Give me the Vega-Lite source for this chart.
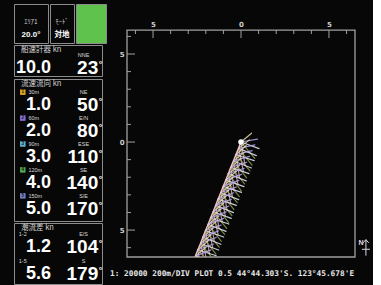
{
 "$schema": "https://vega.github.io/schema/vega-lite/v6.json",
 "background": "#070707",
 "padding": {"left": 13, "top": 3, "right": 0, "bottom": 0},
 "config": {
  "view": {"stroke": "#8c8c8c", "strokeWidth": 1},
  "text": {"font": "Liberation Sans", "color": "#ffffff"}
 },
 "datasets": {
  "header": [{"area": "ｴﾘｱ1", "mode": "ﾓｰﾄﾞ", "heading": "20.0°", "ref": "対地"}],
  "ship": [{"item": "ship", "speed": 10.0, "dir": 23, "card": "NNE"}],
  "currents": [
   {"layer": "L1", "no": "1", "depth": "30m", "speed": 1.0, "dir": 50, "card": "NE"},
   {"layer": "L2", "no": "2", "depth": "60m", "speed": 2.0, "dir": 80, "card": "E/N"},
   {"layer": "L3", "no": "3", "depth": "90m", "speed": 3.0, "dir": 110, "card": "ESE"},
   {"layer": "L4", "no": "4", "depth": "120m", "speed": 4.0, "dir": 140, "card": "SE"},
   {"layer": "L5", "no": "5", "depth": "150m", "speed": 5.0, "dir": 170, "card": "S/E"}
  ],
  "diffs": [
   {"item": "1-2", "speed": 1.2, "dir": 104, "card": "E/S"},
   {"item": "1-5", "speed": 5.6, "dir": 179, "card": "S"}
  ],
  "compass": [{"label": "N"}],
  "ticks": [
   {"v": -6, "kind": "minor"}, {"v": -5, "kind": "major"}, {"v": -4, "kind": "minor"}, {"v": -3, "kind": "minor"},
   {"v": -2, "kind": "minor"}, {"v": -1, "kind": "minor"}, {"v": 0, "kind": "major"}, {"v": 1, "kind": "minor"},
   {"v": 2, "kind": "minor"}, {"v": 3, "kind": "minor"}, {"v": 4, "kind": "minor"}, {"v": 5, "kind": "major"},
   {"v": 6, "kind": "minor"}
  ],
  "track": [
   {"t":0,"x":0,"y":0,"L1":50,"L2":80,"L3":110,"L4":140,"L5":170},
   {"t":1,"x":-0.14,"y":-0.36,"L1":52,"L2":78,"L3":112,"L4":141,"L5":168},
   {"t":2,"x":-0.29,"y":-0.72,"L1":48,"L2":76,"L3":108,"L4":139,"L5":171},
   {"t":3,"x":-0.43,"y":-1.08,"L1":51,"L2":74,"L3":111,"L4":142,"L5":169},
   {"t":4,"x":-0.58,"y":-1.44,"L1":49,"L2":72,"L3":109,"L4":140,"L5":172},
   {"t":5,"x":-0.72,"y":-1.8,"L1":53,"L2":71,"L3":112,"L4":143,"L5":170},
   {"t":6,"x":-0.86,"y":-2.16,"L1":50,"L2":70,"L3":110,"L4":141,"L5":168},
   {"t":7,"x":-1.01,"y":-2.52,"L1":47,"L2":69,"L3":108,"L4":139,"L5":171},
   {"t":8,"x":-1.15,"y":-2.88,"L1":52,"L2":70,"L3":111,"L4":142,"L5":169},
   {"t":9,"x":-1.3,"y":-3.24,"L1":50,"L2":68,"L3":109,"L4":140,"L5":170},
   {"t":10,"x":-1.44,"y":-3.6,"L1":48,"L2":69,"L3":112,"L4":143,"L5":172},
   {"t":11,"x":-1.58,"y":-3.96,"L1":51,"L2":70,"L3":110,"L4":141,"L5":168},
   {"t":12,"x":-1.73,"y":-4.32,"L1":49,"L2":68,"L3":108,"L4":139,"L5":171},
   {"t":13,"x":-1.87,"y":-4.68,"L1":52,"L2":69,"L3":111,"L4":142,"L5":169},
   {"t":14,"x":-2.02,"y":-5.04,"L1":50,"L2":70,"L3":109,"L4":140,"L5":170},
   {"t":15,"x":-2.16,"y":-5.4,"L1":48,"L2":68,"L3":112,"L4":143,"L5":172},
   {"t":16,"x":-2.3,"y":-5.76,"L1":51,"L2":69,"L3":110,"L4":141,"L5":168},
   {"t":17,"x":-2.45,"y":-6.12,"L1":49,"L2":70,"L3":108,"L4":139,"L5":171},
   {"t":18,"x":-2.59,"y":-6.48,"L1":50,"L2":68,"L3":111,"L4":142,"L5":169}
  ]
 },
 "resolve": {"scale": {"color": "independent", "x": "independent", "y": "independent"}},
 "spacing": 3,
 "hconcat": [
  {
   "spacing": 0,
   "vconcat": [
    {
     "spacing": 0,
     "hconcat": [
      {
       "width": 34, "height": 39,
       "data": {"name": "header"},
       "layer": [
        {"mark": {"type": "text", "font": "Noto Sans CJK JP", "fontSize": 6.5, "color": "#cfcfcf", "baseline": "middle", "dy": 5},
         "encoding": {"y": {"datum": "top", "type": "nominal", "axis": null, "scale": {"type": "point", "domain": ["top", "bottom"], "padding": 1.27}}, "text": {"field": "area"}}},
        {"mark": {"type": "text", "fontSize": 8, "fontWeight": "bold", "baseline": "middle", "dy": 5},
         "encoding": {"y": {"datum": "bottom", "type": "nominal", "axis": null, "scale": {"type": "point", "domain": ["top", "bottom"], "padding": 1.27}}, "text": {"field": "heading"}}}
       ]
      },
      {
       "width": 24, "height": 39,
       "data": {"name": "header"},
       "layer": [
        {"mark": {"type": "text", "font": "Noto Sans CJK JP", "fontSize": 6.5, "color": "#cfcfcf", "baseline": "middle", "dy": 5},
         "encoding": {"y": {"datum": "top", "type": "nominal", "axis": null, "scale": {"type": "point", "domain": ["top", "bottom"], "padding": 1.27}}, "text": {"field": "mode"}}},
        {"mark": {"type": "text", "font": "Noto Sans CJK JP", "fontSize": 7.5, "fontWeight": "bold", "baseline": "middle", "dy": 5},
         "encoding": {"y": {"datum": "bottom", "type": "nominal", "axis": null, "scale": {"type": "point", "domain": ["top", "bottom"], "padding": 1.27}}, "text": {"field": "ref"}}}
       ]
      },
      {
       "width": 30, "height": 39,
       "view": {"fill": "#5ec24d", "stroke": "#8c8c8c"},
       "data": {"name": "header"},
       "mark": {"type": "text", "text": ""}
      }
     ]
    },
    {
     "width": 88, "height": 31,
     "data": {"name": "ship"},
     "title": {"text": "船速計器  kn", "anchor": "start", "frame": "group", "orient": "top", "offset": -8, "dx": 7, "font": "Noto Sans CJK JP", "fontSize": 7.5, "fontWeight": "normal", "color": "#d4d4d4"},
     "encoding": {"y": {"field": "item", "type": "nominal", "axis": null, "sort": null, "scale": {"type": "point", "padding": 0.5}}},
     "layer": [
      {"mark": {"type": "text", "align": "center", "baseline": "middle", "dx": 8, "dy": -6, "fontSize": 5.5, "color": "#d8d8d8"},
       "encoding": {"x": {"datum": "card", "type": "nominal", "axis": null, "scale": {"type": "point", "domain": ["icon", "depth", "speed", "card", "dir"], "padding": 0.5}}, "text": {"field": "card"}}},
      {"mark": {"type": "text", "align": "right", "baseline": "middle", "dx": -7, "dy": 7, "fontSize": 18, "fontWeight": "bold"},
       "encoding": {"x": {"datum": "speed", "type": "nominal", "axis": null, "scale": {"type": "point", "domain": ["icon", "depth", "speed", "card", "dir"], "padding": 0.5}}, "text": {"field": "speed", "type": "quantitative", "format": ".1f"}}},
      {"mark": {"type": "text", "align": "right", "baseline": "middle", "dx": 5, "dy": 7, "fontSize": 19, "fontWeight": "bold"},
       "encoding": {"x": {"datum": "dir", "type": "nominal", "axis": null, "scale": {"type": "point", "domain": ["icon", "depth", "speed", "card", "dir"], "padding": 0.5}}, "text": {"field": "dir", "type": "quantitative", "format": "d"}}},
      {"mark": {"type": "text", "align": "left", "baseline": "top", "dx": 5.5, "dy": -1, "fontSize": 9, "fontWeight": "bold", "text": "°"},
       "encoding": {"x": {"datum": "dir", "type": "nominal", "axis": null, "scale": {"type": "point", "domain": ["icon", "depth", "speed", "card", "dir"], "padding": 0.5}}}}
     ]
    },
    {
     "width": 88, "height": 142,
     "data": {"name": "currents"},
     "title": {"text": "流速流向  kn", "anchor": "start", "frame": "group", "orient": "top", "offset": -8.5, "dx": 7, "font": "Noto Sans CJK JP", "fontSize": 7.5, "fontWeight": "normal", "color": "#d4d4d4"},
     "encoding": {"y": {"field": "layer", "type": "nominal", "axis": null, "sort": null, "scale": {"type": "point", "padding": 0.74}}},
     "layer": [
      {"mark": {"type": "point", "shape": "square", "filled": true, "size": 30, "opacity": 1},
       "encoding": {"x": {"datum": "icon", "type": "nominal", "axis": null, "scale": {"type": "point", "domain": ["icon", "depth", "speed", "card", "dir"], "padding": 0.5}},
                    "yOffset": {"value": -6},
                    "color": {"field": "layer", "type": "nominal", "legend": null, "scale": {"domain": ["L1", "L2", "L3", "L4", "L5"], "range": ["#e0a424", "#8a70d8", "#62b6d6", "#52a84a", "#7482c8"]}}}},
      {"mark": {"type": "text", "align": "center", "baseline": "middle", "dy": -6, "fontSize": 4.5, "fontWeight": "bold", "color": "#101010"},
       "encoding": {"x": {"datum": "icon", "type": "nominal", "axis": null, "scale": {"type": "point", "domain": ["icon", "depth", "speed", "card", "dir"], "padding": 0.5}}, "text": {"field": "no"}}},
      {"mark": {"type": "text", "align": "left", "baseline": "middle", "dx": -12, "dy": -6, "fontSize": 5.5, "color": "#d8d8d8"},
       "encoding": {"x": {"datum": "depth", "type": "nominal", "axis": null, "scale": {"type": "point", "domain": ["icon", "depth", "speed", "card", "dir"], "padding": 0.5}}, "text": {"field": "depth"}}},
      {"mark": {"type": "text", "align": "center", "baseline": "middle", "dx": 8, "dy": -6, "fontSize": 5.5, "color": "#d8d8d8"},
       "encoding": {"x": {"datum": "card", "type": "nominal", "axis": null, "scale": {"type": "point", "domain": ["icon", "depth", "speed", "card", "dir"], "padding": 0.5}}, "text": {"field": "card"}}},
      {"mark": {"type": "text", "align": "right", "baseline": "middle", "dx": -7, "dy": 7, "fontSize": 18, "fontWeight": "bold"},
       "encoding": {"x": {"datum": "speed", "type": "nominal", "axis": null, "scale": {"type": "point", "domain": ["icon", "depth", "speed", "card", "dir"], "padding": 0.5}}, "text": {"field": "speed", "type": "quantitative", "format": ".1f"}}},
      {"mark": {"type": "text", "align": "right", "baseline": "middle", "dx": 5, "dy": 7, "fontSize": 19, "fontWeight": "bold"},
       "encoding": {"x": {"datum": "dir", "type": "nominal", "axis": null, "scale": {"type": "point", "domain": ["icon", "depth", "speed", "card", "dir"], "padding": 0.5}}, "text": {"field": "dir", "type": "quantitative", "format": "d"}}},
      {"mark": {"type": "text", "align": "left", "baseline": "top", "dx": 5.5, "dy": -1, "fontSize": 9, "fontWeight": "bold", "text": "°"},
       "encoding": {"x": {"datum": "dir", "type": "nominal", "axis": null, "scale": {"type": "point", "domain": ["icon", "depth", "speed", "card", "dir"], "padding": 0.5}}}}
     ]
    },
    {
     "width": 88, "height": 61,
     "data": {"name": "diffs"},
     "title": {"text": "潮流差     kn", "anchor": "start", "frame": "group", "orient": "top", "offset": -8.5, "dx": 7, "font": "Noto Sans CJK JP", "fontSize": 7.5, "fontWeight": "normal", "color": "#d4d4d4"},
     "encoding": {"y": {"field": "item", "type": "nominal", "axis": null, "sort": null, "scale": {"type": "point", "padding": 0.654}}},
     "layer": [
      {"mark": {"type": "text", "align": "left", "baseline": "middle", "dx": -4, "dy": -6, "fontSize": 5.5, "color": "#d8d8d8"},
       "encoding": {"x": {"datum": "icon", "type": "nominal", "axis": null, "scale": {"type": "point", "domain": ["icon", "depth", "speed", "card", "dir"], "padding": 0.5}}, "text": {"field": "item"}}},
      {"mark": {"type": "text", "align": "center", "baseline": "middle", "dx": 8, "dy": -6, "fontSize": 5.5, "color": "#d8d8d8"},
       "encoding": {"x": {"datum": "card", "type": "nominal", "axis": null, "scale": {"type": "point", "domain": ["icon", "depth", "speed", "card", "dir"], "padding": 0.5}}, "text": {"field": "card"}}},
      {"mark": {"type": "text", "align": "right", "baseline": "middle", "dx": -7, "dy": 7, "fontSize": 18, "fontWeight": "bold"},
       "encoding": {"x": {"datum": "speed", "type": "nominal", "axis": null, "scale": {"type": "point", "domain": ["icon", "depth", "speed", "card", "dir"], "padding": 0.5}}, "text": {"field": "speed", "type": "quantitative", "format": ".1f"}}},
      {"mark": {"type": "text", "align": "right", "baseline": "middle", "dx": 5, "dy": 7, "fontSize": 19, "fontWeight": "bold"},
       "encoding": {"x": {"datum": "dir", "type": "nominal", "axis": null, "scale": {"type": "point", "domain": ["icon", "depth", "speed", "card", "dir"], "padding": 0.5}}, "text": {"field": "dir", "type": "quantitative", "format": "d"}}},
      {"mark": {"type": "text", "align": "left", "baseline": "top", "dx": 5.5, "dy": -1, "fontSize": 9, "fontWeight": "bold", "text": "°"},
       "encoding": {"x": {"datum": "dir", "type": "nominal", "axis": null, "scale": {"type": "point", "domain": ["icon", "depth", "speed", "card", "dir"], "padding": 0.5}}}}
     ]
    }
   ]
  },
  {
   "width": 228, "height": 253,
   "view": {"stroke": null},
   "title": {"text": "1: 20000   200m/DIV PLOT 0.5   44°44.303'S. 123°45.678'E", "orient": "bottom", "anchor": "start", "frame": "group", "dx": -17, "offset": 12, "font": "DejaVu Sans Mono", "fontSize": 7.8, "fontWeight": "bold", "color": "#e6e6e6"},
   "resolve": {"scale": {"size": "independent"}},
   "layer": [
    {
     "data": {"name": "compass"},
     "mark": {"type": "rect", "filled": false, "color": "#a0a0a0", "strokeWidth": 1.3},
     "encoding": {"x": {"datum": -6.48, "type": "quantitative"}, "x2": {"datum": 6.48}, "y": {"datum": 6.36, "type": "quantitative"}, "y2": {"datum": -6.53}}
    },
    {
     "data": {"name": "track"},
     "transform": [
      {"fold": ["L1", "L2", "L3", "L4", "L5"], "as": ["layer", "dir"]},
      {"lookup": "layer", "from": {"data": {"name": "currents"}, "key": "layer", "fields": ["speed"]}}
     ],
     "mark": {"type": "point", "shape": "M0,0L0,-1", "filled": false, "strokeWidth": 1.2, "opacity": 0.85, "clip": true, "strokeCap": "round"},
     "encoding": {
      "x": {"field": "x", "type": "quantitative", "scale": {"domain": [-6.48, 6.48], "nice": false, "zero": false},
            "axis": {"orient": "top", "offset": -26, "values": [-5, 0, 5], "domain": false, "grid": false, "ticks": false,
                     "labelExpr": "format(abs(datum.value), 'd')", "labelPadding": 3, "labelFont": "DejaVu Sans", "labelFontSize": 7, "labelFontWeight": "bold", "labelColor": "#d0d0d0", "labelFlush": false, "labelOverlap": false, "title": null}},
      "y": {"field": "y", "type": "quantitative", "scale": {"domain": [-6.53, 7.84], "nice": false, "zero": false},
            "axis": {"orient": "left", "values": [-5, 0, 5], "domain": false, "grid": false, "ticks": false,
                     "labelExpr": "format(abs(datum.value), 'd')", "labelPadding": 3, "labelFont": "DejaVu Sans", "labelFontSize": 7, "labelFontWeight": "bold", "labelColor": "#d0d0d0", "labelFlush": false, "labelOverlap": false, "title": null}},
      "angle": {"field": "dir", "type": "quantitative", "scale": null},
      "size": {"field": "speed", "type": "quantitative", "legend": null, "scale": {"domain": [0, 5], "range": [400, 2200]}},
      "stroke": {"field": "layer", "type": "nominal", "legend": null, "scale": {"domain": ["L1", "L2", "L3", "L4", "L5"], "range": ["#eadcae", "#b7a8f0", "#e6eefa", "#8f9d48", "#d9a9bb"]}}
     }
    },
    {
     "data": {"name": "track"},
     "mark": {"type": "line", "color": "#ecc6c6", "strokeWidth": 1.5, "clip": true},
     "encoding": {"x": {"field": "x", "type": "quantitative"}, "y": {"field": "y", "type": "quantitative"}, "order": {"field": "t"}}
    },
    {
     "data": {"name": "track"},
     "transform": [{"filter": "datum.t === 0"}],
     "mark": {"type": "point", "shape": "circle", "filled": true, "color": "#ffffff", "size": 30, "opacity": 1},
     "encoding": {"x": {"field": "x", "type": "quantitative"}, "y": {"field": "y", "type": "quantitative"}}
    },
    {
     "data": {"name": "ticks"},
     "mark": {"type": "point", "shape": "M0,0L0,1", "filled": false, "color": "#a0a0a0", "strokeWidth": 1, "opacity": 1},
     "encoding": {"x": {"field": "v", "type": "quantitative"}, "y": {"datum": 6.36, "type": "quantitative"},
                  "size": {"field": "kind", "type": "nominal", "legend": null, "scale": {"domain": ["minor", "major"], "range": [64, 256]}}}
    },
    {
     "data": {"name": "ticks"},
     "mark": {"type": "point", "shape": "M0,0L1,0", "filled": false, "color": "#a0a0a0", "strokeWidth": 1, "opacity": 1},
     "encoding": {"x": {"datum": -6.48, "type": "quantitative"}, "y": {"field": "v", "type": "quantitative"},
                  "size": {"field": "kind", "type": "nominal", "legend": null, "scale": {"domain": ["minor", "major"], "range": [64, 256]}}}
    },
    {
     "data": {"name": "compass"},
     "mark": {"type": "point", "shape": "M0,-1L0,1M-0.35,-0.6L0,-1L0.35,-0.6M-0.5,0.2L0.5,0.2", "filled": false, "color": "#d8d8e8", "strokeWidth": 1, "size": 256, "opacity": 1},
     "encoding": {"x": {"datum": 7.1, "type": "quantitative"}, "y": {"datum": -6.0, "type": "quantitative"}}
    },
    {
     "data": {"name": "compass"},
     "mark": {"type": "text", "fontSize": 7, "fontWeight": "bold", "color": "#d8d8e8", "align": "center", "baseline": "middle"},
     "encoding": {"x": {"datum": 6.82, "type": "quantitative"}, "y": {"datum": -5.75, "type": "quantitative"}, "text": {"field": "label"}}
    }
   ]
  }
 ]
}
